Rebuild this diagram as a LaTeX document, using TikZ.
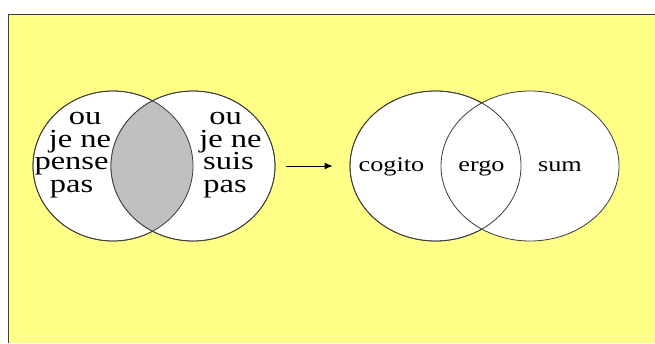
\documentclass[tikz,border=0pt]{standalone}
\usepackage{fontspec}
\setmainfont[FakeStretch=1.25]{Liberation Serif}
\usetikzlibrary{shapes.geometric,arrows.meta}
\definecolor{bgyellow}{RGB}{255,255,136}
\definecolor{lensgray}{RGB}{192,192,192}
\definecolor{linegray}{RGB}{60,60,60}
\tikzset{
  venn/.style={ellipse, draw=linegray, line width=0.8bp, inner sep=0pt, fill=white, minimum height=150bp},
  bigtxt/.style={anchor=base, inner sep=0pt, font=\fontsize{26bp}{26bp}\selectfont},
  smalltxt/.style={anchor=base, inner sep=0pt, font=\fontsize{21bp}{21bp}\selectfont},
  conn/.style={-{Latex[length=8bp,width=7bp]}, line width=1bp, draw=black}
}
\begin{document}
\begin{tikzpicture}[x=1bp,y=-1bp]
\useasboundingbox (0,0) rectangle (655,343);
\fill[white] (0,0) rectangle (655,343);
\fill[bgyellow] (8,14) rectangle (655,343);
\draw[linegray, line width=1bp] (655,14) -- (8,14) -- (8,343);
% left Venn
\node[venn, minimum width=160bp] (A) at (113,166) {};
\node[venn, minimum width=164bp] (B) at (193,166) {};
\begin{scope}
  \clip (113,166) ellipse [x radius=80, y radius=75];
  \fill[lensgray] (193,166) ellipse [x radius=82, y radius=75];
\end{scope}
\draw[linegray, line width=0.8bp] (113,166) ellipse [x radius=80, y radius=75];
\draw[linegray, line width=0.8bp] (193,166) ellipse [x radius=82, y radius=75];
\node[bigtxt] (a1) at (85,124.5) {ou};
\node[bigtxt] (a2) at (80,147.2) {je ne};
\node[bigtxt] (a3) at (71.5,169.9) {pense};
\node[bigtxt] (a4) at (71.5,192.6) {pas};
\node[bigtxt] (b1) at (225.5,124.5) {ou};
\node[bigtxt] (b2) at (230.5,147.2) {je ne};
\node[bigtxt] (b3) at (228.5,169.9) {suis};
\node[bigtxt] (b4) at (225,192.6) {pas};
% right Venn
\node[venn, minimum width=171bp] (C) at (435.5,166) {};
\node[venn, minimum width=178bp] (D) at (530,166) {};
\draw[linegray, line width=0.8bp] (435.5,166) ellipse [x radius=85.5, y radius=75];
\node[smalltxt] (c1) at (391.5,171) {cogito};
\node[smalltxt] (c2) at (481.5,171) {ergo};
\node[smalltxt] (c3) at (560,171) {sum};
% arrow
\draw[conn, shorten <=11bp, shorten >=17bp] (B.east) -- (C.west);
\end{tikzpicture}
\end{document}
